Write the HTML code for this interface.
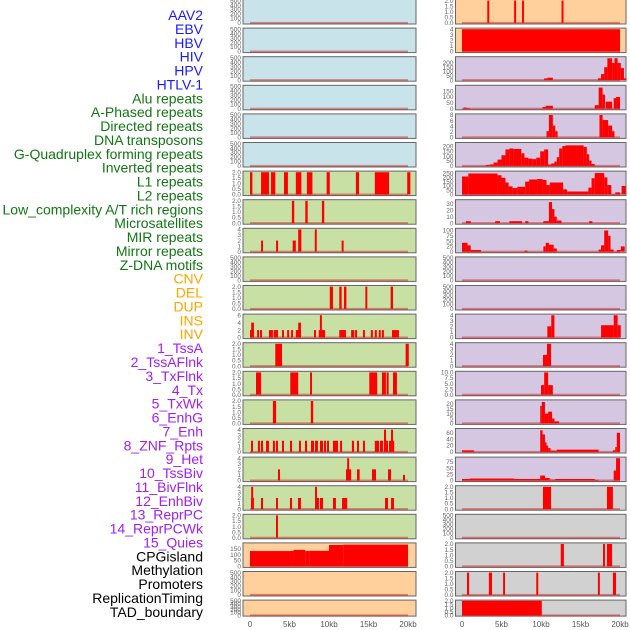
<!DOCTYPE html>
<html><head><meta charset="utf-8">
<style>
html,body{margin:0;padding:0;background:#fff;width:630px;height:630px;overflow:hidden}
svg{display:block}
.lab{font-family:"Liberation Sans",sans-serif;font-size:14px}
.tk{font-family:"Liberation Sans",sans-serif;font-size:6.5px;fill:#666}
.xt{font-family:"Liberation Sans",sans-serif;font-size:8px;fill:#555}
</style></head>
<body>
<svg id="chart" width="630" height="630"></svg>
<script>
// ---- labels ----
const labelNames = ["AAV2","EBV","HBV","HIV","HPV","HTLV-1","Alu repeats","A-Phased repeats","Directed repeats","DNA transposons","G-Quadruplex forming repeats","Inverted repeats","L1 repeats","L2 repeats","Low_complexity A/T rich regions","Microsatellites","MIR repeats","Mirror repeats","Z-DNA motifs","CNV","DEL","DUP","INS","INV","1_TssA","2_TssAFlnk","3_TxFlnk","4_Tx","5_TxWk","6_EnhG","7_Enh","8_ZNF_Rpts","9_Het","10_TssBiv","11_BivFlnk","12_EnhBiv","13_ReprPC","14_ReprPCWk","15_Quies","CPGisland","Methylation","Promoters","ReplicationTiming","TAD_boundary"];
const labelColors = ["#1a1aff","#1a1aff","#1a1aff","#1a1aff","#1a1aff","#1a1aff","#117711","#117711","#117711","#117711","#117711","#117711","#117711","#117711","#117711","#117711","#117711","#117711","#117711","#ffa500","#ffa500","#ffa500","#ffa500","#ffa500","#a020f0","#a020f0","#a020f0","#a020f0","#a020f0","#a020f0","#a020f0","#a020f0","#a020f0","#a020f0","#a020f0","#a020f0","#a020f0","#a020f0","#a020f0","#000","#000","#000","#000","#000"];

// ---- x axis ----
const xTickValues = [0,5,10,15,20];
const xTickLabels = ["0","5kb","10kb","15kb","20kb"];

// ---- panel colours & y ranges ----
const leftBg = ["b","b","b","b","b","b","g","g","g","g","g","g","g","g","g","g","g","g","g","p","p","p"];
const rightBg = ["p","p","l","l","l","l","l","l","l","l","l","l","l","l","l","l","l","y","y","y","y","y"];
const leftMax = [500,500,500,500,500,500,2,2,4,500,2,6,2,2,2,4,4,4,2,190,500,500];
const rightMax = [2,4,260,190,8,230,260,35,105,500,500,4,4,10,23,70,90,2,500,2,2,2];
const leftTicks = [[0,100,200,300,400,500],[0,100,200,300,400,500],[0,100,200,300,400,500],[0,100,200,300,400,500],[0,100,200,300,400,500],[0,100,200,300,400,500],[0,0.5,1,1.5,2],[0,0.5,1,1.5,2],[0,1,2,3,4],[0,100,200,300,400,500],[0,0.5,1,1.5,2],[0,2,4,6],[0,0.5,1,1.5,2],[0,0.5,1,1.5,2],[0,0.5,1,1.5,2],[0,1,2,3,4],[0,1,2,3,4],[0,1,2,3,4],[0,0.5,1,1.5,2],[0,50,100,150],[0,100,200,300,400,500],[0,100,200,300,400,500]];
const rightTicks = [[0,0.5,1,1.5,2],[0,1,2,3,4],[0,50,100,150,200],[0,50,100,150],[0,2,4,6,8],[0,50,100,150,200],[0,50,100,150,200,250],[0,10,20,30],[0,25,50,75,100],[0,100,200,300,400,500],[0,100,200,300,400,500],[0,1,2,3,4],[0,1,2,3,4],[0,2.5,5,7.5,10],[0,5,10,15,20],[0,20,40,60],[0,25,50,75],[0,0.5,1,1.5,2],[0,100,200,300,400,500],[0,0.5,1,1.5,2],[0,0.5,1,1.5,2],[0,0.5,1,1.5,2]];

// ---- series: [startKb, endKb, value] ----
const L6 = [[0,0.3,2],[1.4,2.4,2],[2.66,3.2,2],[4.3,4.8,2],[5.8,6.5,2],[7.2,7.9,2],[9.7,10.1,2],[13.4,13.8,2],[15.8,17.6,2],[19.9,20.3,2]];
const L7 = [[5.3,5.6,2],[7.0,7.3,2],[9.1,9.4,2]];
const L8 = [[1.4,1.65,2],[3.3,3.55,2],[5.4,5.8,2],[6.1,6.5,4],[8.2,8.45,4],[11.6,11.85,2]];
const L10 = [[10.1,10.5,2],[11.3,11.6,2],[11.9,12.2,2],[14.6,14.85,2],[17.8,18.1,2]];
const L11 = [[0,0.5,2],[0.15,0.5,4],[0.9,1.15,2],[1.27,1.52,2],[2.4,2.9,2],[3.0,3.55,2],[4.05,4.3,2],[4.7,4.95,2],[5.2,5.45,2],[5.8,6.45,2],[6.1,6.45,4],[8.1,8.35,2],[8.7,9.5,2],[8.85,9.1,6],[11.3,12.15,2],[12.8,13.2,2],[13.3,13.55,2],[14.3,14.55,2],[15.3,15.55,2],[15.8,16.05,2],[16.3,16.55,2],[16.7,16.95,2],[17.97,18.85,2]];
const L12 = [[3.2,4.05,2],[19.7,20.1,2]];
const L13 = [[0.76,1.4,2],[5.1,6.1,2],[7.6,7.85,2],[15.1,16.1,2],[16.7,17.2,2],[17.3,17.55,2],[18.1,18.6,2]];
const L14 = [[2.9,3.3,2],[7.7,8.0,2]];
const L15 = [[0.13,0.38,2],[1.0,1.26,2],[1.39,1.65,2],[2.03,2.4,2],[2.9,3.16,2],[3.29,3.54,2],[4.05,4.3,2],[5.06,5.32,2],[6.2,6.45,2],[6.96,7.22,2],[7.72,8.1,2],[8.23,8.6,2],[8.86,9.24,2],[9.37,9.62,2],[9.75,10.0,2],[10.5,11.14,2],[11.4,11.65,2],[12.9,13.17,2],[13.54,13.8,2],[14.3,14.55,2],[15.8,16.33,2],[16.45,16.84,2],[16.96,17.22,4],[17.22,17.47,2],[17.6,17.85,2],[17.85,18.1,4],[18.1,18.23,2]];
const L16 = [[3.54,3.8,2],[12.15,12.8,2],[12.3,12.55,4],[13.54,13.88,2],[15.44,15.95,2],[17.47,17.85,2],[19.37,19.62,1]];
const L17 = [[0.13,0.5,2],[0.15,0.4,4],[1.39,1.65,2],[3.29,3.54,2],[5.06,5.32,2],[6.07,6.45,2],[8.23,8.48,4],[8.48,8.73,2],[8.86,9.24,2],[10.5,10.88,2],[11.65,12.3,2],[17.09,17.47,2],[17.85,18.23,2]];
const L18 = [[3.29,3.54,2]];
const L19 = [[0,5.5,130],[5.5,7,140],[7,7.5,130],[7.5,10,132],[10,11.8,182],[11.8,20,185]];
const R0 = [[3.2,3.45,2],[6.6,6.85,2],[7.6,7.85,2],[12.6,12.85,2]];
const R1 = [[0,20,4]];
const R2 = [[10.4,10.8,20],[10.8,11.5,28],[17.2,17.6,20],[17.6,18,70],[18,18.4,150],[18.4,19,255],[19,19.3,200],[19.3,19.7,255],[19.7,20.1,200],[20.1,20.5,140],[20.5,20.8,20]];
const R3 = [[0.2,0.6,10],[0.6,1,5],[10.2,10.6,15],[10.6,11.5,25],[16.8,17.3,30],[17.3,17.8,180],[17.8,18.1,120],[18.2,19,60],[19.2,19.5,90],[19.5,20,100]];
const R4 = [[10.7,11,2.2],[11,11.5,8],[11.5,11.8,4.2],[11.8,12.1,2.2],[17.4,17.8,8],[17.8,18.5,6.2],[18.5,19,4.2],[19,19.3,2.2]];
const R5 = [[3,3.5,10],[3.5,4,15],[4,4.5,35],[4.5,5,65],[5,5.5,110],[5.5,6,170],[6,6.5,180],[6.5,7.5,175],[7.5,7.9,130],[7.9,8.4,85],[8.4,8.9,75],[8.9,9.4,70],[9.4,9.9,85],[9.9,10.4,150],[10.4,10.9,170],[10.9,11.3,15],[11.3,11.7,25],[11.7,12,45],[12,12.3,90],[12.3,12.7,180],[12.7,13.1,205],[13.1,15.4,212],[15.4,15.8,195],[15.8,16.1,120],[16.1,16.4,55],[16.4,16.8,20]];
const R6 = [[0,0.8,210],[0.8,4.5,245],[4.5,5,225],[5,5.5,195],[5.5,5.9,140],[5.9,6.4,95],[6.4,7,75],[7,8,90],[8,8.5,150],[8.5,9.5,175],[9.5,10.2,180],[10.2,10.7,170],[10.7,11.1,110],[11.1,12.8,140],[12.8,13.3,60],[13.3,16,35],[16,16.4,80],[16.4,16.8,190],[16.8,18,250],[18,18.4,200],[18.4,18.9,110],[18.9,19.4,5],[19.4,20,25],[20,20.2,10],[20.2,20.7,100]];
const R7 = [[0.5,1.1,3],[4.2,4.8,3],[6.0,7.6,3],[8.0,8.4,3],[10.3,11,3],[11,11.4,33],[11.4,11.7,22],[11.7,12,10],[12,12.6,4],[16.1,16.5,3]];
const R8 = [[0,0.7,42],[0.7,1.1,30],[1.1,2.4,8],[7.9,8.3,5],[10.3,10.6,25],[10.6,11,42],[11,11.6,33],[11.6,12,15],[17.3,17.6,10],[17.6,18,30],[18,18.5,100],[18.5,18.8,75],[18.8,19.2,10],[19.6,20.1,8],[20.1,20.6,25]];
const R11 = [[10.8,11.3,2],[11.3,11.7,4],[17.6,19.2,2.2],[19.2,19.7,4],[19.7,20.1,2.2]];
const R12 = [[10.25,10.76,2],[10.76,11.27,4]];
const R13 = [[10.0,10.4,4.3],[10.4,10.9,10],[10.9,11.5,4.3]];
const R14 = [[9.9,10.1,18],[10.1,10.5,22],[10.5,10.9,10],[10.9,11.4,12],[11.4,11.7,5],[11.7,12.3,2]];
const R15 = [[0,1.5,5],[9.9,10.2,68],[10.2,10.5,55],[10.5,10.7,30],[10.7,10.9,20],[10.9,11.2,12],[11.2,12,4],[12,17.3,7],[19.1,19.4,5],[19.4,19.6,15],[19.6,20,60]];
const R16 = [[0,1,6],[1,6.6,8],[6.6,9.9,6],[9.9,10.5,20],[10.5,11.1,10],[11.1,11.8,4],[11.8,16.8,6],[16.8,17.3,3],[19.2,19.5,40],[19.5,20,90]];
const R17 = [[10.25,11.27,2],[18.35,19.1,2]];
const R19 = [[12.5,12.9,2],[17.85,18.1,2],[18.35,19.0,2]];
const R20 = [[0.63,0.9,2],[3.4,3.8,2],[5.2,5.45,2],[9.4,9.65,2],[17.2,17.45,2],[19.1,19.5,2]];
const R21 = [[0,10.1,2]];
const leftSeries = [[],[],[],[],[],[],L6,L7,L8,[],L10,L11,L12,L13,L14,L15,L16,L17,L18,L19,[],[]];
const rightSeries = [R0,R1,R2,R3,R4,R5,R6,R7,R8,[],[],R11,R12,R13,R14,R15,R16,R17,[],R19,R20,R21];

// ---- drawing ----
const NS = "http://www.w3.org/2000/svg";
const svg = document.getElementById("chart");
const bgColors = {b:"#c8e3ea",g:"#c8e0a3",p:"#ffd09c",l:"#d5c6e1",y:"#d1d1d1"};
function mk(tag, attrs, parent){const e=document.createElementNS(NS,tag);for(const k in attrs)e.setAttribute(k,attrs[k]);(parent||svg).appendChild(e);return e;}

labelNames.forEach((n,i)=>{
  const t = mk("text",{x:203,y:20+i*13.88,"text-anchor":"end",class:"lab",fill:labelColors[i]});
  
  
  t.textContent = n;
});

function drawPanel(side,row){
  const isL = side==="L";
  const x0 = isL?243:455.5, x1 = isL?416:626;
  const xOrigin = isL?250:462;
  const top = row*28.6 - 0.5;
  const h = row===21?16:24.5;
  const bottom = top+h;
  const ymax = isL?leftMax[row]:rightMax[row];
  const ticks = isL?leftTicks[row]:rightTicks[row];
  const data = isL?leftSeries[row]:rightSeries[row];
  const bg = bgColors[isL?leftBg[row]:rightBg[row]];
  const xs = kb=>xOrigin+kb*7.9;
  const lo=-0.05*ymax, hi=1.05*ymax;
  const ys = v=>bottom-(v-lo)/(hi-lo)*h;
  const g = mk("g",{});
  
  
  mk("rect",{x:x0,y:top,width:x1-x0,height:h,fill:bg,stroke:"#666","stroke-width":1},g);
  const oneDec = ticks.some(t=>!Number.isInteger(t));
  ticks.forEach(t=>{
    const tx = mk("text",{x:x0-2,y:ys(t)+2.2,"text-anchor":"end",class:"tk"},g);
    
    
    tx.textContent = oneDec?t.toFixed(1):String(t);
  });
  mk("rect",{x:xs(0),y:ys(0)-1,width:xs(20)-xs(0),height:2,fill:"rgba(200,0,0,0.4)"},g);
  data.forEach(d=>{
    const r = mk("rect",{x:xs(d[0]),y:ys(d[2]),width:Math.max(1.2,xs(d[1])-xs(d[0])),height:ys(0)-ys(d[2]),fill:"#ff0000"},g);
    
    
  });
}
for(let r=0;r<22;r++){drawPanel("L",r);drawPanel("R",r);}

["L","R"].forEach(side=>{
  const xOrigin = side==="L"?250:462;
  xTickValues.forEach((v,i)=>{
    const t = mk("text",{x:xOrigin+v*7.9,y:627,"text-anchor":"middle",class:"xt"});
    
    
    t.textContent = xTickLabels[i];
  });
});
</script>
</body></html>
